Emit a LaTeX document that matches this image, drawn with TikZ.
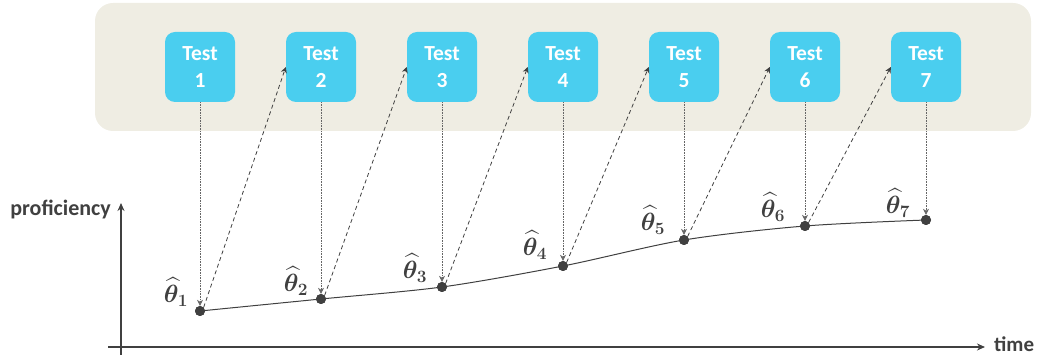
\documentclass[tikz,border=0pt]{standalone}
\usepackage{amsmath,bm}
\usepackage{fontspec}
\setmainfont{Carlito}
\usetikzlibrary{arrows.meta}
\definecolor{panel}{HTML}{EFEDE3}
\definecolor{testbox}{HTML}{4ACEEF}
\definecolor{ink}{HTML}{404040}
\tikzset{
  testnode/.style={fill=testbox, rounded corners=10pt, minimum width=70pt, minimum height=70pt,
    text=white, font=\bfseries\fontsize{21.5}{26}\selectfont, align=center, inner sep=0pt},
  pt/.style={circle, fill=ink, minimum size=10pt, inner sep=0pt},
  down/.style={densely dotted, draw=ink!80, line width=0.6pt, -{Stealth[length=6pt,width=6pt]}},
  up/.style={dashed, draw=ink, line width=0.8pt, dash pattern=on 4pt off 3pt, -{Stealth[length=6pt,width=6pt]}},
  axis/.style={draw=ink, line width=1.6pt, -{Stealth[length=8pt,width=7pt]}},
  thlab/.style={text=ink, font=\fontsize{24}{28}\selectfont, inner sep=0pt},
  axlab/.style={text=ink, font=\bfseries\fontsize{22}{26}\selectfont, inner sep=0pt}
}
\begin{document}
\begin{tikzpicture}[x=1pt,y=-1pt]
\useasboundingbox (0,0) rectangle (1042,355);
\fill[panel, rounded corners=18pt] (95,3) rectangle (1031,131);
% tests
\foreach \i/\x in {1/200,2/321,3/442,4/563,5/684,6/805,7/926}{
  \node[testnode] (t\i) at (\x,67) {Test\\[1pt]\i};
}
% points
\node[pt] (p1) at (200,311) {};
\node[pt] (p2) at (321,299) {};
\node[pt] (p3) at (442,287) {};
\node[pt] (p4) at (563,266) {};
\node[pt] (p5) at (684,240) {};
\node[pt] (p6) at (805,226) {};
\node[pt] (p7) at (926,220) {};
% curve
\draw[ink, line width=1pt] plot[smooth, tension=0.5] coordinates {(p1.center) (p2.center) (p3.center) (p4.center) (p5.center) (p6.center) (p7.center)};
\foreach \i in {1,...,7}{ \node[pt] at (p\i) {}; }
% down arrows
\foreach \i in {1,...,7}{ \draw[down] (t\i.south) -- (p\i.north); }
% up arrows
\foreach \i/\j in {1/2,2/3,3/4,4/5,5/6,6/7}{ \draw[up] (p\i.north east) -- (t\j.west); }
% labels
\node[thlab] (l1) at (176,292) {$\widehat{\bm\theta}_{\bm 1}$};
\node[thlab] (l2) at (296,281) {$\widehat{\bm\theta}_{\bm 2}$};
\node[thlab] (l3) at (415,268) {$\widehat{\bm\theta}_{\bm 3}$};
\node[thlab] (l4) at (535,245) {$\widehat{\bm\theta}_{\bm 4}$};
\node[thlab] (l5) at (653,220) {$\widehat{\bm\theta}_{\bm 5}$};
\node[thlab] (l6) at (773,207) {$\widehat{\bm\theta}_{\bm 6}$};
\node[thlab] (l7) at (898,203) {$\widehat{\bm\theta}_{\bm 7}$};
% axes
\coordinate (ybot) at (121,355);
\coordinate (ytop) at (121,203);
\coordinate (xl) at (108,347);
\coordinate (xr) at (985,347);
\draw[axis] (ybot) -- (ytop);
\draw[axis] (xl) -- (xr);
\node[axlab, anchor=east] (prof) at (111,209) {proficiency};
\node[axlab, anchor=base west, font=\bfseries\fontsize{21}{24}\selectfont] (time) at (994,352) {time};
\end{tikzpicture}
\end{document}
